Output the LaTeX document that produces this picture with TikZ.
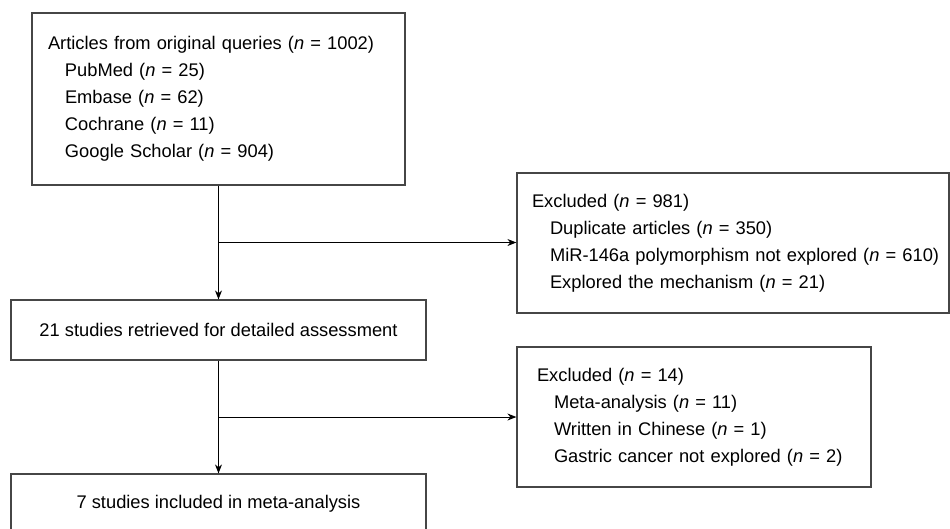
\documentclass[tikz,border=0pt]{standalone}
\usepackage{fontspec}
\setmainfont{Liberation Sans}
\usetikzlibrary{arrows.meta, positioning, calc}
\definecolor{flowGray}{RGB}{70, 70, 70}

\begin{document}
\begin{tikzpicture}[x=1pt, y=-1pt,
  box/.style={rectangle, draw=flowGray, line width=1.2pt,
              inner xsep=0pt, inner ysep=0pt, align=center,
              font=\fontsize{18.3}{27}\selectfont},
  lst/.style={box, align=left},
  >={Stealth[length=9pt, width=7pt]}, line width=1pt
]
  \useasboundingbox (0,0) rectangle (950,528);

  %% Main column
  \node[lst, minimum width=373, minimum height=172, text width=341] (query) at (218.5, 99)
    {\mbox{Articles from original queries (\textit{n} = 1002)}\\
     \hspace*{17pt}PubMed (\textit{n} = 25)\\
     \hspace*{17pt}Embase (\textit{n} = 62)\\
     \hspace*{17pt}Cochrane (\textit{n} = 11)\\
     \hspace*{17pt}Google Scholar (\textit{n} = 904)};
  \node[box, minimum width=415, minimum height=60] (retr) at (218.5, 330)
    {21 studies retrieved for detailed assessment};
  \node[box, minimum width=415, minimum height=60] (incl) at (218.5, 504)
    {7 studies included in meta-analysis};

  %% Exclusion boxes (right)
  \node[lst, minimum width=432, minimum height=140, text width=402] (excl1) at (733, 243)
    {Excluded (\textit{n} = 981)\\
     \hspace*{18pt}Duplicate articles (\textit{n} = 350)\\
     \hspace*{18pt}\mbox{MiR-146a polymorphism not explored (\textit{n} = 610)}\\
     \hspace*{18pt}Explored the mechanism (\textit{n} = 21)};
  \node[lst, minimum width=354, minimum height=140, text width=314] (excl2) at (694, 417)
    {Excluded (\textit{n} = 14)\\
     \hspace*{17pt}Meta-analysis (\textit{n} = 11)\\
     \hspace*{17pt}Written in Chinese (\textit{n} = 1)\\
     \hspace*{17pt}\mbox{Gastric cancer not explored (\textit{n} = 2)}};

  %% Branch points
  \coordinate (j1) at ($(query.south)!0.5!(retr.north)$);
  \coordinate (j2) at ($(retr.south)!0.5!(incl.north)$);

  %% Flow
  \draw[->] (query) -- (retr);
  \draw[->] (retr) -- (incl);
  \draw[->] (j1) -- (j1 -| excl1.west);
  \draw[->] (j2) -- (j2 -| excl2.west);

\end{tikzpicture}
\end{document}
